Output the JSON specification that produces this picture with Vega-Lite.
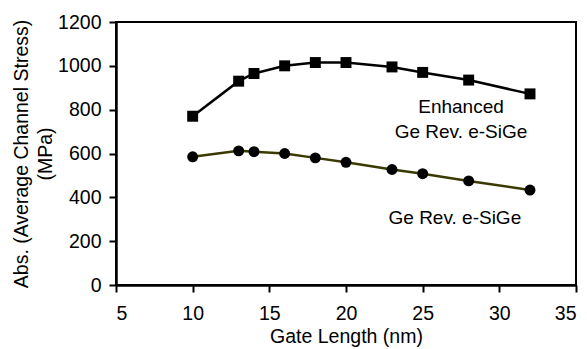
{
  "$schema": "https://vega.github.io/schema/vega-lite/v6.json",
  "width": 460,
  "height": 263,
  "autosize": "none",
  "padding": {"left": 116, "top": 22, "right": 11, "bottom": 64},
  "background": "white",
  "config": {
    "font": "Liberation Sans",
    "view": {"stroke": "black", "strokeWidth": 2},
    "axis": {
      "grid": false,
      "domainColor": "black",
      "domainWidth": 2.5,
      "tickColor": "black",
      "tickWidth": 2,
      "tickSize": 7,
      "labelFont": "Liberation Sans",
      "labelFontSize": 19.5,
      "labelColor": "black",
      "titleFont": "Liberation Sans",
      "titleFontSize": 19.5,
      "titleFontWeight": "normal",
      "titleColor": "black"
    }
  },
  "datasets": {
    "series": [
      {"series": "Enhanced", "x": 10, "y": 770},
      {"series": "Enhanced", "x": 13, "y": 930},
      {"series": "Enhanced", "x": 14, "y": 965},
      {"series": "Enhanced", "x": 16, "y": 1000},
      {"series": "Enhanced", "x": 18, "y": 1015},
      {"series": "Enhanced", "x": 20, "y": 1015},
      {"series": "Enhanced", "x": 23, "y": 995},
      {"series": "Enhanced", "x": 25, "y": 970},
      {"series": "Enhanced", "x": 28, "y": 935},
      {"series": "Enhanced", "x": 32, "y": 872},
      {"series": "GeRev", "x": 10, "y": 585},
      {"series": "GeRev", "x": 13, "y": 612},
      {"series": "GeRev", "x": 14, "y": 608},
      {"series": "GeRev", "x": 16, "y": 600},
      {"series": "GeRev", "x": 18, "y": 580},
      {"series": "GeRev", "x": 20, "y": 560},
      {"series": "GeRev", "x": 23, "y": 527},
      {"series": "GeRev", "x": 25, "y": 508},
      {"series": "GeRev", "x": 28, "y": 475},
      {"series": "GeRev", "x": 32, "y": 433}
    ],
    "labels": [
      {"x": 27.5, "y": 810, "label": "Enhanced"},
      {"x": 27.5, "y": 698, "label": "Ge Rev. e-SiGe"},
      {"x": 27.1, "y": 306, "label": "Ge Rev. e-SiGe"}
    ]
  },
  "layer": [
    {
      "data": {"name": "series"},
      "transform": [{"filter": "datum.series === 'GeRev'"}],
      "mark": {"type": "line", "color": "#3a3a00", "strokeWidth": 2.5},
      "encoding": {
        "x": {"field": "x", "type": "quantitative", "scale": {"domain": [5, 35], "nice": false}, "axis": {"values": [5, 10, 15, 20, 25, 30, 35], "format": "d", "title": "Gate Length (nm)", "titlePadding": 5, "labelPadding": 12}},
        "y": {"field": "y", "type": "quantitative", "scale": {"domain": [0, 1200], "nice": false}, "axis": {"values": [0, 200, 400, 600, 800, 1000, 1200], "format": "d", "title": ["Abs. (Average Channel Stress)", "(MPa)"], "titleLineHeight": 24, "titlePadding": 2, "labelPadding": 8}}
      }
    },
    {
      "data": {"name": "series"},
      "transform": [{"filter": "datum.series === 'GeRev'"}],
      "mark": {"type": "point", "shape": "circle", "filled": true, "color": "black", "size": 120, "opacity": 1},
      "encoding": {
        "x": {"field": "x", "type": "quantitative"},
        "y": {"field": "y", "type": "quantitative"}
      }
    },
    {
      "data": {"name": "series"},
      "transform": [{"filter": "datum.series === 'Enhanced'"}],
      "mark": {"type": "line", "color": "black", "strokeWidth": 2.5},
      "encoding": {
        "x": {"field": "x", "type": "quantitative"},
        "y": {"field": "y", "type": "quantitative"}
      }
    },
    {
      "data": {"name": "series"},
      "transform": [{"filter": "datum.series === 'Enhanced'"}],
      "mark": {"type": "point", "shape": "square", "filled": true, "color": "black", "size": 120, "opacity": 1},
      "encoding": {
        "x": {"field": "x", "type": "quantitative"},
        "y": {"field": "y", "type": "quantitative"}
      }
    },
    {
      "data": {"name": "labels"},
      "mark": {"type": "text", "font": "Liberation Sans", "fontSize": 19, "color": "black", "align": "center", "baseline": "middle"},
      "encoding": {
        "x": {"field": "x", "type": "quantitative"},
        "y": {"field": "y", "type": "quantitative"},
        "text": {"field": "label"}
      }
    }
  ]
}
